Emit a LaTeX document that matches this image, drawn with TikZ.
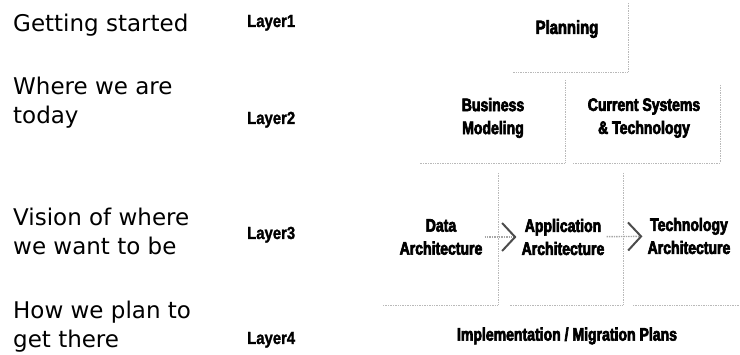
\documentclass[tikz,border=0pt]{standalone}
\usepackage{fontspec}
\setmainfont{DejaVu Sans}
\newfontfamily\boxfont[FakeStretch=0.78,FakeBold=3.5]{Liberation Sans}
\newfontfamily\layerfont[FakeStretch=0.85,FakeBold=1.5]{Liberation Sans}
\usetikzlibrary{arrows.meta,positioning}

\tikzset{
  stage/.style={anchor=north west,align=left,inner sep=0pt,
    font=\fontsize{23}{29.5}\selectfont},
  layer/.style={anchor=base west,inner sep=0pt,
    font=\layerfont\bfseries\fontsize{17.5}{20}\selectfont},
  block/.style={align=center,inner sep=0pt,
    font=\boxfont\bfseries\fontsize{18}{23}\selectfont},
  edge/.style={gray!55,densely dotted,line width=0.7pt},
  flow/.style={gray!70,densely dotted,line width=1.4pt,shorten <=2pt,shorten >=5pt,
    -{Straight Barb[length=13pt,width=28pt,line width=2pt,color=black!70]}}
}

\begin{document}
\begin{tikzpicture}[x=1pt,y=-1pt]
    \useasboundingbox (0,0) rectangle (740,355);
    \node[stage] (start)  at (13,13.5)  {Getting started};
    \node[stage] (today)  at (13,76.5)  {Where we are\\today};
    \node[stage] (vision) at (13,207.5) {Vision of where\\we want to be};
    \node[stage] (plan)   at (13,300.5) {How we plan to\\get there};
    \node[layer] (L1) at (247,27)  {Layer1};
    \node[layer] (L2) at (247,124) {Layer2};
    \node[layer] (L3) at (247,239) {Layer3};
    \node[layer] (L4) at (247,344) {Layer4};
    \node[block,font=\boxfont\bfseries\fontsize{19}{23}\selectfont] (planning) at (567,29) {Planning};
    \node[block] (business) at (493,118) {Business\\Modeling};
    \node[block] (current)  at (644,118) {Current Systems\\\& Technology};
    \node[block] (data)     at (441,237) {Data\\Architecture};
    \node[block] (app)      at (563,237) {Application\\Architecture};
    \node[block] (tech)     at (689,236) {Technology\\Architecture};
    \node[block] (impl)     at (567,336) {Implementation / Migration Plans};
    \draw[edge] (628,3) |- (513,72);
    \draw[edge] (565,80) |- (420,163);
    \draw[edge] (720,85) |- (572,163);
    \draw[edge] (498,173) |- (383,305);
    \draw[edge] (623,173) |- (510,305);
    \draw[edge] (633,305) -- (740,305);
    \draw[flow] (data) -- (app);
    \draw[flow] (app) -- (tech);
\end{tikzpicture}
\end{document}
